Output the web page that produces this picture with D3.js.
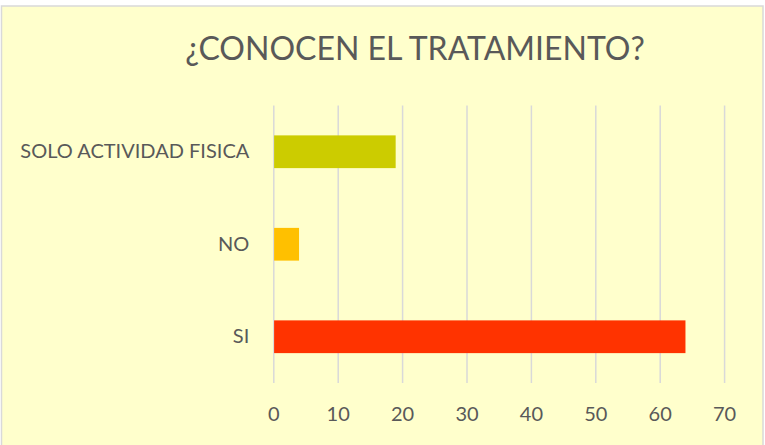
<!DOCTYPE html>
<html>
<head>
<meta charset="utf-8">
<script src="https://cdn.jsdelivr.net/npm/d3@7"></script>
<style>
  body { margin: 0; background: #fff; }
  svg text { font-family: Lato, "Open Sans", sans-serif; fill: #595959; }
</style>
</head>
<body>
<div id="chart"></div>
<script>
const categories = ["SOLO ACTIVIDAD FISICA", "NO", "SI"];
const values = [19, 4, 64];
const barColors = ["#CCCC00", "#FFC000", "#FF3300"];
const xTicks = [0, 10, 20, 30, 40, 50, 60, 70];
const title = "¿CONOCEN EL TRATAMIENTO?";

const data = categories.map((c, i) => ({ category: c, value: values[i], color: barColors[i] }));

const fullWidth = 765, fullHeight = 445;
const margin = { top: 105.5, right: 40.9, bottom: 62, left: 273.3 };
const width = fullWidth - margin.left - margin.right;
const height = fullHeight - margin.top - margin.bottom;

const root = d3.select("#chart")
  .append("svg")
  .attr("width", fullWidth)
  .attr("height", fullHeight);

// chart area background + border
root.append("rect")
  .attr("x", 1.5)
  .attr("y", 6)
  .attr("width", 761.5)
  .attr("height", 445)
  .attr("fill", "#FFFFCC")
  .attr("stroke", "#D9D9D9")
  .attr("stroke-width", 1.5);

root.append("text")
  .attr("x", 415)
  .attr("y", 60)
  .style("text-anchor", "middle")
  .style("font-size", "32px")
  .text(title);

const svg = root.append("g")
  .attr("transform", `translate(${margin.left},${margin.top})`);

const x = d3.scaleLinear()
  .domain([0, 70])
  .range([0, width]);

const y = d3.scaleBand()
  .domain(categories)
  .range([0, height])
  .paddingInner(0.646)
  .paddingOuter(0.323);

// vertical gridlines + tick labels
const xAxis = svg.append("g")
  .attr("transform", `translate(0,${height})`)
  .call(d3.axisBottom(x).tickValues(xTicks).tickSize(-height).tickPadding(24));
xAxis.select(".domain").remove();
xAxis.selectAll("line")
  .attr("stroke", "#D9D9D9")
  .attr("stroke-width", 1.5);
xAxis.selectAll("text")
  .style("font-size", "20px")
  .attr("fill", "#595959");

svg.selectAll("rect.bar")
  .data(data)
  .enter()
  .append("rect")
  .attr("class", "bar")
  .attr("x", x(0) + 0.8)
  .attr("y", d => y(d.category))
  .attr("height", y.bandwidth())
  .attr("width", d => x(d.value) - x(0) - 0.8)
  .attr("fill", d => d.color);

const yAxis = svg.append("g")
  .call(d3.axisLeft(y).tickSize(0).tickPadding(24));
yAxis.select(".domain").remove();
yAxis.selectAll("text")
  .style("font-size", "20px")
  .attr("fill", "#595959");
</script>
</body>
</html>
